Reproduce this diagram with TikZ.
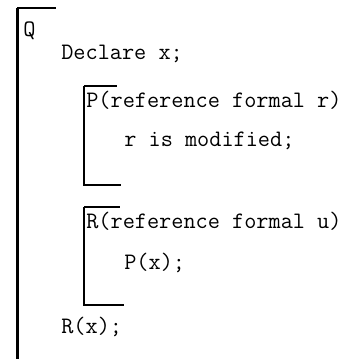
\documentclass[tikz,border=0pt]{standalone}
\usepackage{fontspec}
\usepackage{tikz}
\tikzstyle{code} = [inner sep=0pt, anchor=base west, font=\ttfamily\fontsize{23.6}{28}\selectfont]
\tikzstyle{outerbar} = [line width=3pt]
\tikzstyle{innerbar} = [line width=2pt]

\begin{document}
\begin{tikzpicture}[x=1pt,y=-1pt,semithick]
  \useasboundingbox (0,0) rectangle (356,359);
  % text lines
  \node[code] (Q) at (23,36) {Q};
  \node[code] (decl) at (61,59) {Declare x;};
  \node[code] (P_head) at (86,107) {P(reference formal r)};
  \node[code] (P_body) at (124,146) {r is modified;};
  \node[code] (R_head) at (86,228) {R(reference formal u)};
  \node[code] (R_body) at (124,269) {P(x);};
  \node[code] (call) at (61,333) {R(x);};

  % block brackets
  \coordinate (Q_top) at (17,8);
  \coordinate (Q_bot) at (17,359);
  \coordinate (P_top) at (84,86);
  \coordinate (P_bot) at (84,185);
  \coordinate (R_top) at (84,207);
  \coordinate (R_bot) at (84,305);

  \draw[outerbar] (Q_bot) -- (Q_top);
  \draw[innerbar] (Q_top) -- ++(39,0);
  \draw[innerbar] (P_top) -- ++(33,0);
  \draw[innerbar] (P_top) -- (P_bot) -- ++(37,0);
  \draw[innerbar] (R_top) -- ++(36,0);
  \draw[innerbar] (R_top) -- (R_bot) -- ++(40,0);
\end{tikzpicture}
\end{document}
